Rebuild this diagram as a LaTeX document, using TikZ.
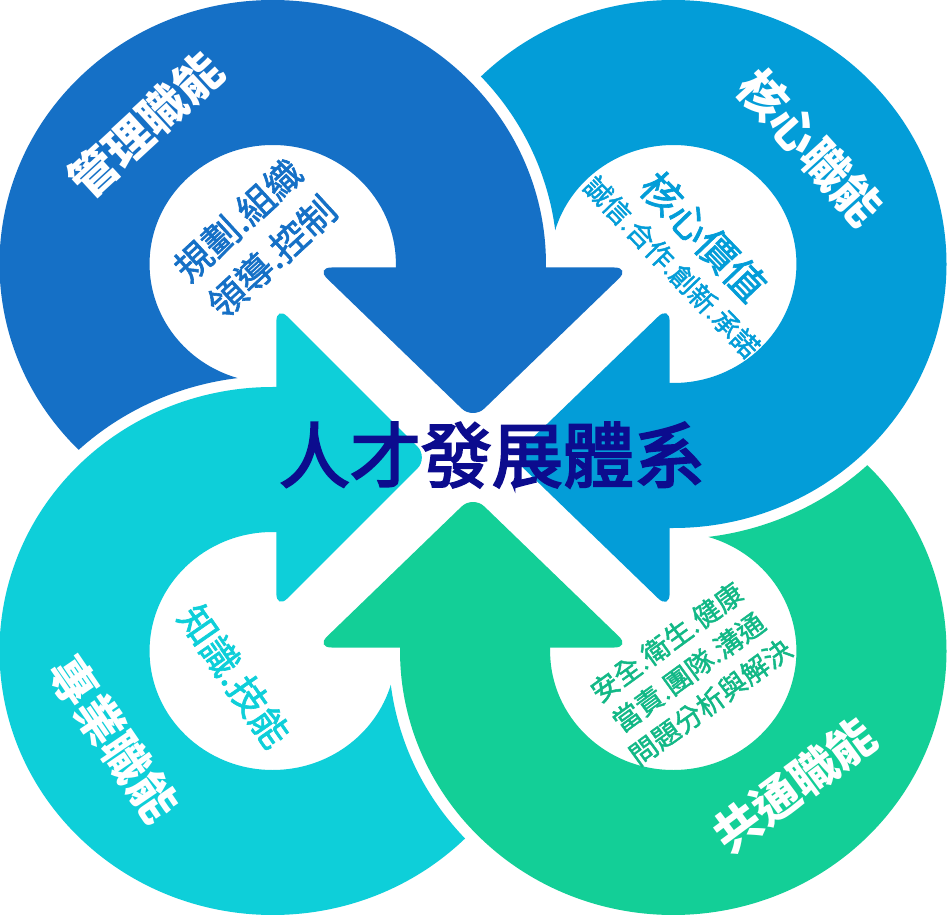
\documentclass[tikz,border=0pt]{standalone}
\usepackage{fontspec}
\newfontfamily\cjk{Noto Sans CJK TC}
\newfontfamily\cjkm{Noto Sans CJK TC}[FakeBold=1.6]
\newfontfamily\cjkt{Noto Sans CJK TC}[FakeBold=3]
\definecolor{dbc}{HTML}{1570C6}
\definecolor{lbc}{HTML}{039DD8}
\definecolor{cyc}{HTML}{0ECFD9}
\definecolor{grc}{HTML}{13CF97}
\definecolor{grt}{HTML}{12B886}
\definecolor{titlec}{HTML}{0C0C8E}
\tikzset{
  head/.style={rounded corners=16pt},
  lbl/.style={text=white, inner sep=0pt, font=\cjk\bfseries\fontsize{47}{47}\selectfont},
  inner/.style={inner sep=0pt, align=center},
}
\begin{document}
\begin{tikzpicture}[x=1pt,y=-1pt]
\fill[white] (0,0) rectangle (951,917);
\useasboundingbox (0,0) rectangle (951,917);
\begin{scope}[xscale=1.035]
% top-left ring (management)
\fill[dbc] ({263.5+264*cos(135.26)},{264+264*sin(135.26)}) arc[start angle=135.26,end angle=360,radius=264]
  -- (527.5,268.5) -- (382.5,268.5) -- (382.5,264)
  arc[start angle=360,end angle=106.52,radius=119]
  arc[start angle=262.93,end angle=227.0,radius=275] -- cycle;
\fill[dbc, head] (305,267.5) -- (609,267.5) -- (457,419.5) -- cycle;
% top-right ring (core)
\fill[lbc] ({650.5+264*cos(225.26)},{264+264*sin(225.26)}) arc[start angle=225.26,end angle=450,radius=264]
  -- (646,528) -- (646,383) -- (650.5,383)
  arc[start angle=450,end angle=196.52,radius=119]
  arc[start angle=352.93,end angle=317.0,radius=275] -- cycle;
\fill[lbc, head] (647,305.5) -- (647,609.5) -- (495,457.5) -- cycle;
% bottom-right ring (common)
\fill[grc] ({650.5+264*cos(315.26)},{651+264*sin(315.26)}) arc[start angle=315.26,end angle=540,radius=264]
  -- (386.5,646.5) -- (531.5,646.5) -- (531.5,651)
  arc[start angle=540,end angle=286.52,radius=119]
  arc[start angle=82.93,end angle=47.0,radius=275] -- cycle;
\fill[grc, head] (305,647.5) -- (609,647.5) -- (457,495.5) -- cycle;
% bottom-left ring (professional)
\fill[cyc] ({263.5+264*cos(45.26)},{651+264*sin(45.26)}) arc[start angle=45.26,end angle=270,radius=264]
  -- (268,387) -- (268,532) -- (263.5,532)
  arc[start angle=270,end angle=16.52,radius=119]
  arc[start angle=172.93,end angle=137.0,radius=275] -- cycle;
\fill[cyc, head] (267,305.5) -- (267,609.5) -- (414,457.5) -- cycle;
\end{scope}
% ring labels
\node[lbl, rotate=42.6] (l1) at (145.5,125) {管理職能};
\node[lbl, rotate=-47.9] (l2) at (810.5,147.5) {核心職能};
\node[lbl, rotate=-55.8] (l3) at (113.5,739) {專業職能};
\node[lbl, rotate=36.5] (l4) at (794.5,785.5) {共通職能};
% inner texts
\node[inner, text=dbc, rotate=42.6, font=\cjkm\fontsize{37}{50}\selectfont] (i1) at (255,238.5) {規劃.組織\\領導.控制};
\node[inner, text=lbc, rotate=-46.1, font=\cjkm\fontsize{27}{27}\selectfont] (i2) at (690,249.5)
  {{\fontsize{40}{40}\selectfont 核心價值}\\[12pt]誠信.合作.創新.承諾};
\node[inner, text=cyc, rotate=-55.2, font=\cjkm\fontsize{38}{38}\selectfont] (i3) at (234.5,676) {知識.技能};
\node[inner, text=grt, rotate=36, font=\cjkm\fontsize{27.5}{37}\selectfont] (i4) at (688.5,672) {安全.衛生.健康\\當責.團隊.溝通\\問題分析與解決};
% title
\node[inner, text=titlec, font=\cjkt\fontsize{71}{71}\selectfont] (title) at (492,455) {人才發展體系};
\end{tikzpicture}
\end{document}
